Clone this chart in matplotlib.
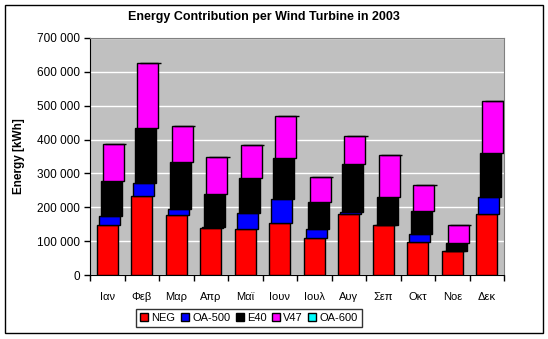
import numpy as np
import matplotlib
matplotlib.use("Agg")
import matplotlib.pyplot as plt
from matplotlib.patches import Rectangle
from matplotlib.ticker import FuncFormatter, MultipleLocator

plt.rcParams['font.family'] = ['Liberation Sans', 'DejaVu Sans']

# Months (Greek) and stacked contributions per turbine type, in kWh
months = ['Ιαν', 'Φεβ', 'Μαρ', 'Απρ', 'Μαϊ', 'Ιουν',
          'Ιουλ', 'Αυγ', 'Σεπ', 'Οκτ', 'Νοε', 'Δεκ']
neg = [147000, 232000, 176000, 138000, 135000, 153000,
       109000, 179000, 147000, 97000, 70600, 179000]
oa500 = [26500, 38600, 18000, 5000, 47000, 70500,
         26000, 8000, 0, 23600, 0, 50000]
e40 = [105500, 164400, 141000, 95000, 104000, 123500,
       80000, 140000, 82000, 67400, 23400, 130000]
v47 = [109000, 191000, 106000, 112000, 99000, 123600,
       73000, 85000, 124000, 77000, 53000, 156000]
oa600 = [0] * 12

series = [('NEG', neg, '#FF0000'),
          ('OA-500', oa500, '#0000FF'),
          ('E40', e40, '#000000'),
          ('V47', v47, '#FF00FF'),
          ('OA-600', oa600, '#00FFFF')]

fig = plt.figure(figsize=(5.48, 3.39), dpi=100)
fig.patch.set_facecolor('white')
ax = fig.add_axes([90 / 548, 1 - 275 / 339, 414 / 548, 237 / 339])
ax.set_facecolor('#C0C0C0')

x = np.arange(len(months))
bottom = np.zeros(len(months))
handles = []
for i, (name, vals, col) in enumerate(series):
    vals = np.array(vals, dtype=float)
    b = ax.bar(x + i * 0.06, vals, width=0.61, bottom=bottom, color=col,
               edgecolor='black', linewidth=1.0, label=name, zorder=3)
    handles.append(b)
    bottom = bottom + vals

ax.set_xlim(-0.5, 11.5)
ax.set_ylim(0, 700000)
ax.yaxis.set_major_locator(MultipleLocator(100000))
ax.yaxis.set_major_formatter(FuncFormatter(
    lambda v, p: '0' if v == 0 else '{:,.0f}'.format(v).replace(',', ' ')))
ax.grid(axis='y', color='white', linewidth=1.0, zorder=1)
ax.set_axisbelow(True)

ax.set_xticks(x)
ax.set_xticklabels(months)
ax.set_xticks(np.arange(-0.5, 12, 1), minor=True)
ax.tick_params(axis='x', which='major', length=0, pad=12, labelsize=8)
ax.tick_params(axis='x', which='minor', length=4, width=1, direction='out')
ax.tick_params(axis='y', length=4, width=1, direction='out', labelsize=8.5, pad=3)

ax.spines['top'].set_color('#808080')
ax.spines['right'].set_color('#808080')
ax.spines['left'].set_color('black')
ax.spines['bottom'].set_color('black')

ax.set_ylabel('Energy [kWh]', fontsize=8.5, fontweight='bold', labelpad=9)
fig.text(264 / 548, 1 - 17 / 339,
         'Energy Contribution per Wind Turbine in 2003',
         ha='center', va='center', fontsize=9, fontweight='bold')

leg = fig.legend(handles=handles, loc='center', ncol=5,
                 bbox_to_anchor=(249 / 548, 1 - 318 / 339),
                 fontsize=8, frameon=True, fancybox=False,
                 handlelength=0.7, handleheight=0.7, handletextpad=0.3,
                 columnspacing=0.5, borderpad=0.4, borderaxespad=0)
leg.get_frame().set_edgecolor('black')
leg.get_frame().set_linewidth(1.0)

# outer chart border
fig.add_artist(Rectangle((5 / 548, 1 - 333 / 339), 538 / 548, 328 / 339,
                         transform=fig.transFigure, fill=False,
                         edgecolor='black', linewidth=1.0))

fig.savefig('out.png', dpi=100)
